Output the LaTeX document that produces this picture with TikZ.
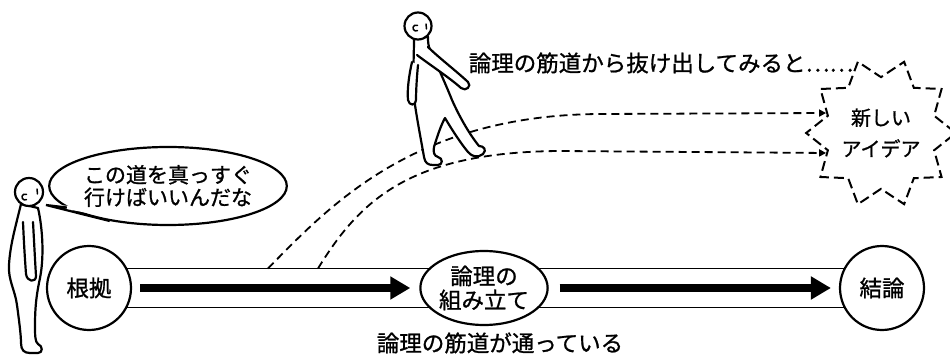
\documentclass[tikz,border=0pt]{standalone}
\usepackage{fontspec}
\setmainfont{Noto Sans CJK JP}[FakeBold=1]
\usetikzlibrary{shapes.geometric,arrows.meta,calc,backgrounds}

\begin{document}
\begin{tikzpicture}[x=1pt, y=-1pt, line width=2.2pt,
		every node/.style={align=center, font=\fontsize{22.5}{24}\selectfont},
		maru/.style={draw, circle, fill=white, minimum size=84pt, inner sep=0pt},
		yajirushi/.style={line width=8pt, -{Triangle[length=20pt,width=22pt]}},
		tenmichi/.style={line width=1.8pt, dash pattern=on 8pt off 5pt, -{Triangle[length=7pt,width=7pt]}},
		hito/.style={fill=white, line width=2.2pt, line join=round, line cap=round},
		kao/.style={line width=1.5pt, line cap=round}]
	\useasboundingbox (0,0) rectangle (950,358);

	\node[maru] (konkyo) at (89,288) {根拠};
	\node[draw, ellipse, fill=white, minimum width=114pt, minimum height=74pt, inner sep=0pt] (kumitate) at (484,288) {論理の\\組み立て};
	\node[maru] (ketsuron) at (882,288) {結論};
	\node[draw, ellipse, fill=white, minimum width=194pt, minimum height=78pt, inner sep=0pt, font=\fontsize{21}{22.5}\selectfont] (serifu) at (168,186) {この道を真っすぐ\\行けばいいんだな};
	\node[draw, star, star points=10, star point ratio=1.34, shape border rotate=18, minimum size=136pt, inner sep=0pt, line width=2pt, dash pattern=on 10pt off 5pt, font=\fontsize{20}{31}\selectfont] (idea) at (881,133) {新しい\\アイデア};
	\node (ue) at (661,63) {論理の筋道から抜け出してみると……};
	\node (shita) at (500,343) {論理の筋道が通っている};

	% the road
	\begin{scope}[on background layer]
		\draw ([yshift=19.5pt]konkyo.center) -- ([yshift=19.5pt]ketsuron.center);
		\draw ([yshift=-19.5pt]konkyo.center) -- ([yshift=-19.5pt]ketsuron.center);
	\end{scope}

	\draw[yajirushi, shorten <=8pt, shorten >=9pt] (konkyo) -- (kumitate);
	\draw[yajirushi, shorten <=11pt, shorten >=8pt] (kumitate) -- (ketsuron);

	% leaving the road
	\coordinate (bunki1) at (268,268.5);
	\coordinate (bunki2) at (318,268.5);
	\draw[tenmichi] (bunki1) .. controls (330,205) and (415,115) .. (600,114) -- (idea.160);
	\draw[tenmichi] (bunki2) .. controls (360,200) and (410,152) .. (560,151) -- (idea.200);

	% standing man
	\draw[hito] (21,204) .. controls (16,225) and (10,245) .. (9,265)
		.. controls (8,280) and (15,290) .. (17,305)
		.. controls (19,320) and (21,335) .. (21,343)
		.. controls (21,350) and (24,353) .. (30,353)
		-- (38,353) .. controls (43,353) and (43,346) .. (38,344)
		.. controls (35,342) and (35,335) .. (35,325)
		.. controls (35,305) and (37,292) .. (40,278)
		.. controls (44,258) and (43,230) .. (38,208) -- cycle;
	\draw[hito] (29,192) circle[radius=14];
	\draw[hito] (23,222) .. controls (24,245) and (25,260) .. (26,274)
		.. controls (27,282) and (36,283) .. (36,276)
		.. controls (35,260) and (34,240) .. (33,222);
	\draw[kao] (26.5,199.6) arc[start angle=60, end angle=300, radius=3];
	\draw[kao] (37,189) -- (37.5,194);

	% walking man
	\draw[hito] (414,38) .. controls (414,60) and (412,85) .. (415,105)
		.. controls (418,125) and (422,145) .. (424,157)
		.. controls (425,163) and (428,165) .. (433,165)
		-- (438,165) .. controls (443,165) and (443,158) .. (438,157)
		.. controls (434,156) and (433,152) .. (434,147)
		.. controls (437,137) and (441,125) .. (445,118)
		.. controls (452,130) and (462,145) .. (468,152)
		.. controls (472,157) and (478,158) .. (483,154)
		.. controls (487,150) and (484,146) .. (479,146)
		.. controls (470,135) and (460,118) .. (452,100)
		.. controls (446,85) and (437,65) .. (430,50)
		.. controls (428,45) and (428,41) .. (428,37) -- cycle;
	\draw[hito] (418,26) circle[radius=13.5];
	\draw[hito] (412,62) .. controls (409,75) and (407,90) .. (408,100)
		.. controls (409,106) and (416,106) .. (416,100)
		.. controls (416,90) and (417,75) .. (418,65);
	\draw[hito] (417,55) .. controls (430,65) and (450,78) .. (461,88)
		.. controls (466,92) and (472,86) .. (468,82)
		.. controls (455,70) and (438,57) .. (428,47);
	\draw[kao] (417.5,30.6) arc[start angle=60, end angle=300, radius=3];
	\draw[kao] (426,24) -- (426.5,29);

	% speech tail
	\coordinate (kuchi) at (46,205);
	\fill[white] ($(serifu.192)!0.08!(serifu.center)$) -- (kuchi) -- ($(serifu.211)!0.08!(serifu.center)$) -- cycle;
	\draw[line join=miter] (serifu.192) -- (kuchi) -- (serifu.211);
\end{tikzpicture}
\end{document}
